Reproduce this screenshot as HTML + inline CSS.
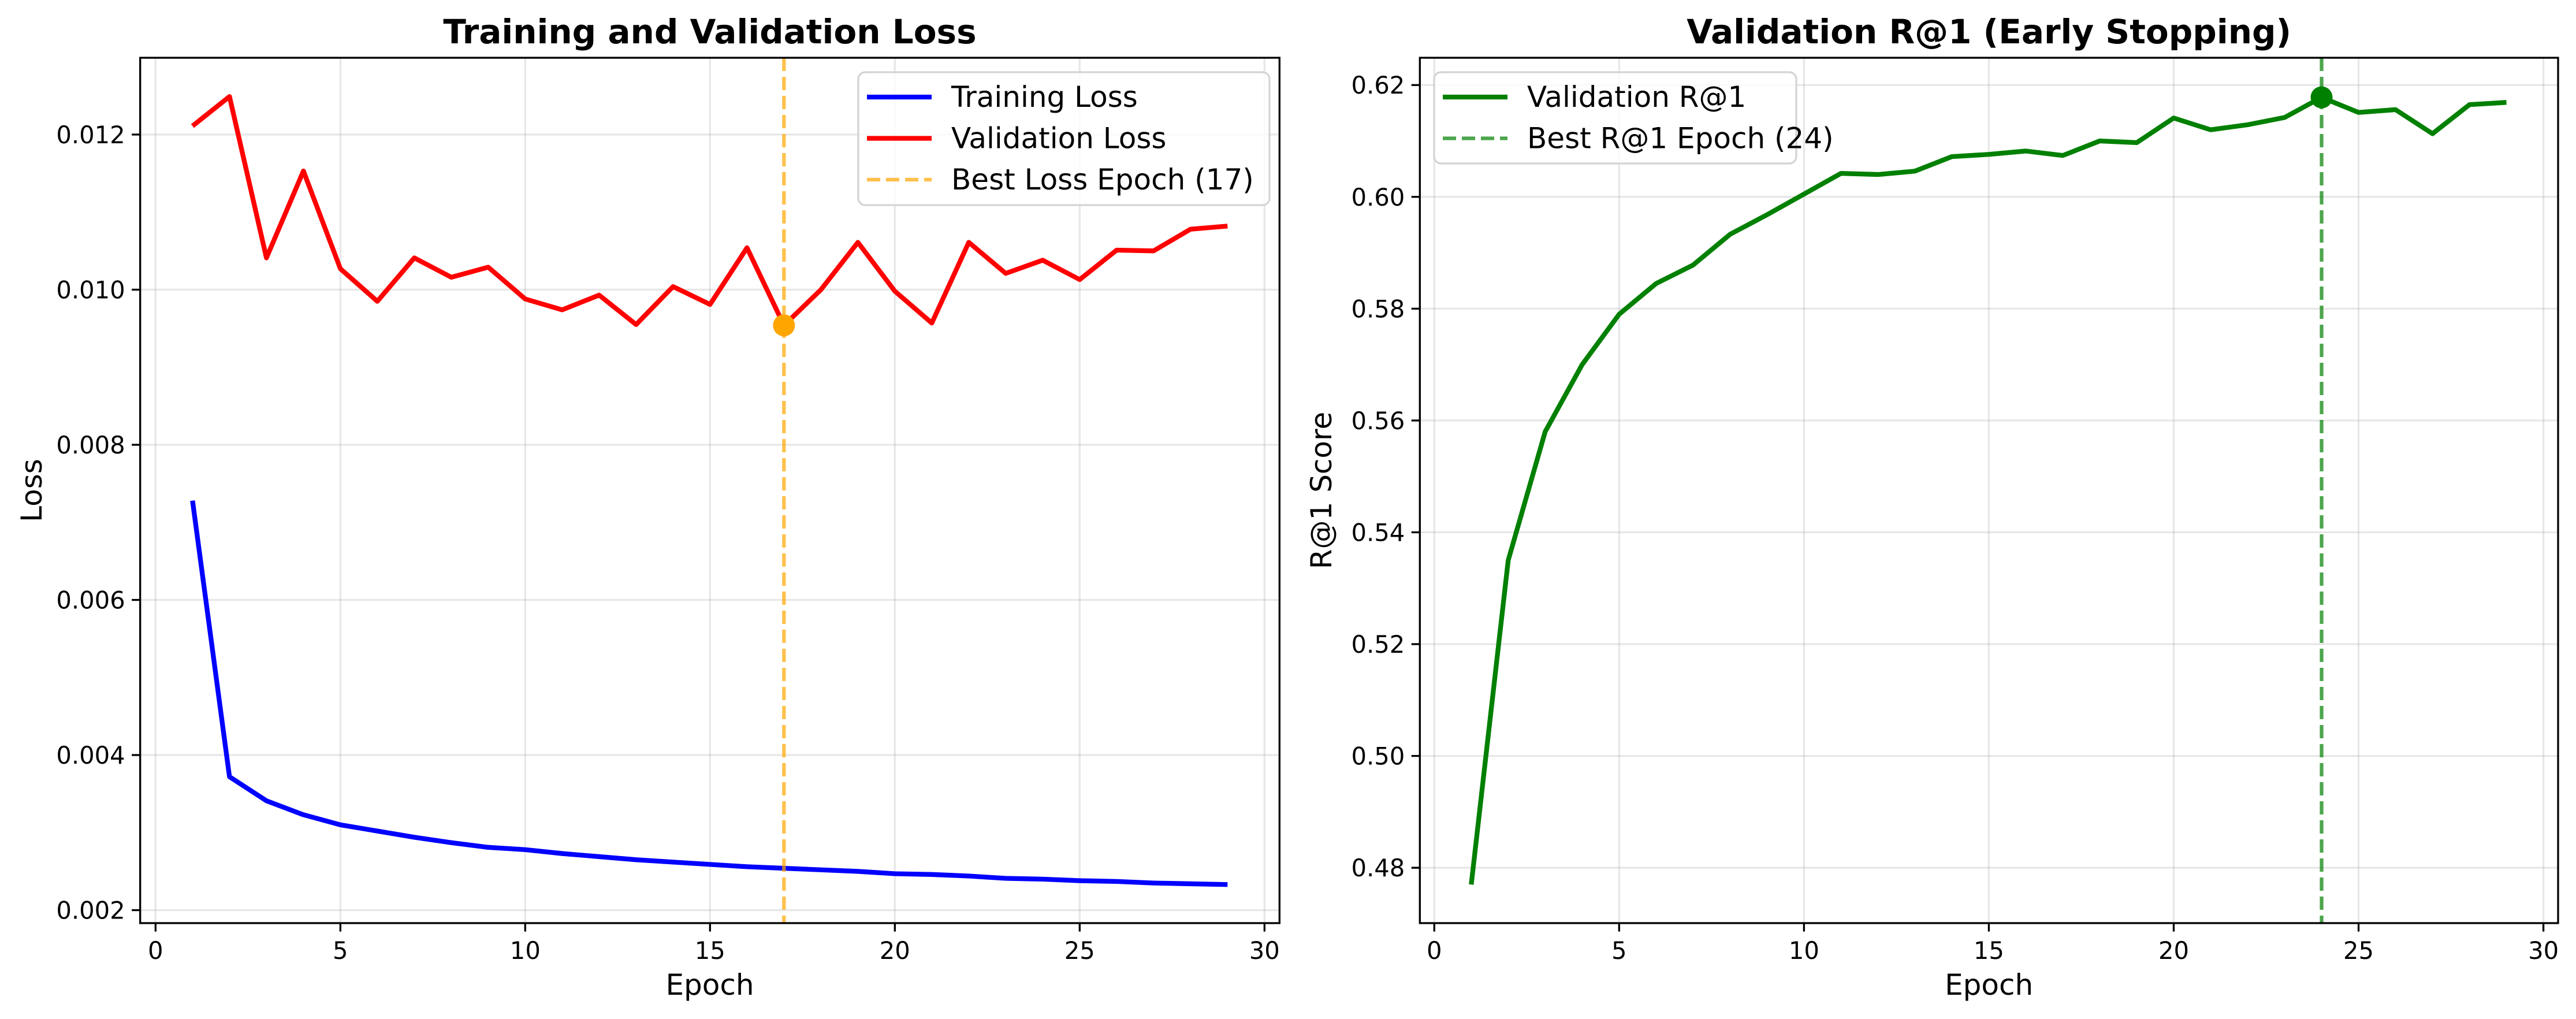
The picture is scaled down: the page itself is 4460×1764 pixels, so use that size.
<!DOCTYPE html>
<html><head><meta charset="utf-8"><style>
html,body{margin:0;padding:0;background:#fff;}
svg{display:block;font-family:"DejaVu Sans","Liberation Sans",sans-serif;}
</style></head><body>
<svg id="fig" width="4460" height="1764" viewBox="0 0 4460 1764" xmlns="http://www.w3.org/2000/svg">
<rect width="4460" height="1764" fill="#fff"/>
<g id="left"></g>
<g id="right"></g>
</svg>
<script>
const epochs = [1,2,3,4,5,6,7,8,9,10,11,12,13,14,15,16,17,18,19,20,21,22,23,24,25,26,27,28,29];
const trainLoss = [0.00728,0.00372,0.00341,0.00323,0.00310,0.00302,0.00294,0.00287,0.00281,0.00278,0.00273,0.00269,0.00265,0.00262,0.00259,0.00256,0.00254,0.00252,0.00250,0.00247,0.00246,0.00244,0.00241,0.00240,0.00238,0.00237,0.00235,0.00234,0.00233];
const valLoss = [0.01211,0.01249,0.01041,0.01153,0.01027,0.00985,0.01041,0.01016,0.01029,0.00988,0.00974,0.00993,0.00955,0.01004,0.00981,0.01054,0.00954,0.01000,0.01061,0.00998,0.00957,0.01061,0.01021,0.01038,0.01013,0.01051,0.01050,0.01078,0.01082];
const valR1 = [0.477,0.535,0.558,0.570,0.579,0.5845,0.5878,0.5933,0.5968,0.6005,0.6042,0.6040,0.6046,0.6072,0.6076,0.6082,0.6074,0.6100,0.6097,0.6141,0.6120,0.6129,0.6142,0.6178,0.6151,0.6156,0.6113,0.6165,0.6169];
const xTicks = [0,5,10,15,20,25,30];
const lossTicks = [0.002,0.004,0.006,0.008,0.010,0.012];
const lossTickLabels = ["0.002","0.004","0.006","0.008","0.010","0.012"];
const r1Ticks = [0.48,0.50,0.52,0.54,0.56,0.58,0.60,0.62];
const r1TickLabels = ["0.48","0.50","0.52","0.54","0.56","0.58","0.60","0.62"];
const bestLossEpoch = 17;
const bestR1Epoch = 24;

const NS="http://www.w3.org/2000/svg";
function mk(parent,tag,attrs,text){const e=document.createElementNS(NS,tag);for(const k in attrs)e.setAttribute(k,attrs[k]);if(text!==undefined)e.textContent=text;parent.appendChild(e);return e;}

function drawChart(g,cfg){
  const L=cfg.L,R=cfg.R,T=100,B=1598;
  const sx=v=>L+(v-cfg.xmin)/(cfg.xmax-cfg.xmin)*(R-L);
  const sy=v=>B-(v-cfg.ymin)/(cfg.ymax-cfg.ymin)*(B-T);
  xTicks.forEach(t=>{const l=mk(g,'line',{x1:sx(t),x2:sx(t),y1:T,y2:B,stroke:'#b0b0b0','stroke-opacity':0.3,'stroke-width':3.3});
    });
  cfg.yt.forEach(t=>{const l=mk(g,'line',{x1:L,x2:R,y1:sy(t),y2:sy(t),stroke:'#b0b0b0','stroke-opacity':0.3,'stroke-width':3.3});
    });
  cfg.series.forEach(s=>{
    const p=mk(g,'polyline',{points:epochs.map((e,i)=>sx(e)+','+sy(s.data[i])).join(' '),fill:'none',stroke:s.color,'stroke-width':8.3,'stroke-linejoin':'round','stroke-linecap':'butt'});
    
  });
  const bl=mk(g,'line',{x1:sx(cfg.best),x2:sx(cfg.best),y1:T,y2:B,stroke:cfg.bestColor,'stroke-opacity':0.7,'stroke-width':6.25,'stroke-dasharray':'23 10'});
  
  const bi=epochs.indexOf(cfg.best);
  const dot=mk(g,'circle',{cx:sx(cfg.best),cy:sy(cfg.bestSeries[bi]),r:19,fill:cfg.dotColor});
  
  const sp=mk(g,'rect',{x:L,y:T,width:R-L,height:B-T,fill:'none',stroke:'#000','stroke-width':3.3});
  
  xTicks.forEach(t=>{
    const tk=mk(g,'line',{x1:sx(t),x2:sx(t),y1:B,y2:B+14.6,stroke:'#000','stroke-width':3.3});
    
    const tl=mk(g,'text',{x:sx(t),y:1660,'font-size':41.7,'text-anchor':'middle',fill:'#000'},String(t));
    
  });
  cfg.yt.forEach((t,i)=>{
    const tk=mk(g,'line',{x1:L-14.6,x2:L,y1:sy(t),y2:sy(t),stroke:'#000','stroke-width':3.3});
    
    const tl=mk(g,'text',{x:L-26,y:sy(t)+15,'font-size':41.7,'text-anchor':'end',fill:'#000'},cfg.ytl[i]);
    
  });
  const xl=mk(g,'text',{x:(L+R)/2,y:1722,'font-size':50,'text-anchor':'middle'},'Epoch');
  
  const yl=mk(g,'text',{x:0,y:0,'font-size':50,'text-anchor':'middle',transform:'translate('+cfg.ylx+','+((T+B)/2)+') rotate(-90)'},cfg.ylabel);
  
  const ti=mk(g,'text',{x:(L+R)/2,y:75,'font-size':58,'font-weight':'bold','text-anchor':'middle'},cfg.title);
  
  const lg=mk(g,'g',{});
  
  const lb=cfg.legend;
  mk(lg,'rect',{x:lb.x,y:lb.y,width:lb.w,height:lb.h,rx:12,fill:'#fff','fill-opacity':0.8,stroke:'#d4d4d4','stroke-width':3.3});
  lb.items.forEach((it,i)=>{
    const y=lb.y+43+i*71.5;
    const e=mk(lg,'g',{});
    
    const a={x1:lb.x+15,x2:lb.x+127,y1:y,y2:y,stroke:it.color,'stroke-width':it.dash?6.25:8.3};
    if(it.dash){a['stroke-dasharray']='23 10';a['stroke-opacity']=0.7;}
    mk(e,'line',a);
    mk(e,'text',{x:lb.x+161,y:y+17,'font-size':50},it.label);
  });
}

drawChart(document.getElementById('left'),{
  L:242.7,R:2215.3,xmin:-0.416,xmax:30.406,ymin:0.001833,ymax:0.01299,
  yt:lossTicks,ytl:lossTickLabels,ylabel:'Loss',ylx:72,title:'Training and Validation Loss',
  series:[{data:trainLoss,color:'#0000ff',name:'training-loss-line'},{data:valLoss,color:'#ff0000',name:'validation-loss-line'}],
  best:bestLossEpoch,bestColor:'#ffa500',dotColor:'#ffa500',bestSeries:valLoss,
  legend:{x:1486,y:125,w:712,h:230,items:[{label:'Training Loss',color:'#0000ff'},{label:'Validation Loss',color:'#ff0000'},{label:'Best Loss Epoch (17)',color:'#ffa500',dash:true}]}
});
drawChart(document.getElementById('right'),{
  L:2458.3,R:4429,xmin:-0.39,xmax:30.397,ymin:0.4701,ymax:0.62488,
  yt:r1Ticks,ytl:r1TickLabels,ylabel:'R@1 Score',ylx:2305,title:'Validation R@1 (Early Stopping)',
  series:[{data:valR1,color:'#008000',name:'validation-r1-line'}],
  best:bestR1Epoch,bestColor:'#008000',dotColor:'#008000',bestSeries:valR1,
  legend:{x:2483,y:125,w:627,h:158,items:[{label:'Validation R@1',color:'#008000'},{label:'Best R@1 Epoch (24)',color:'#008000',dash:true}]}
});
</script>
</body></html>
